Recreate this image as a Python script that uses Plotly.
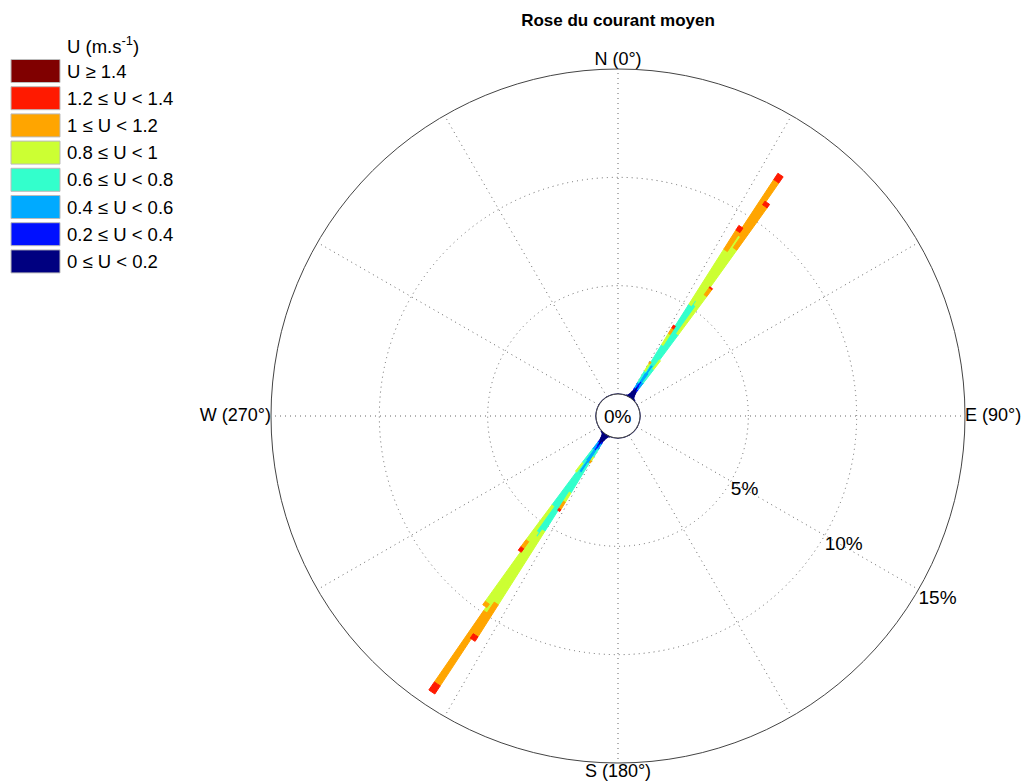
import plotly.graph_objects as go

# page body adds an 8px margin, so figure pixels = screen pixels - 8
OFF = 8
W, H = 1029 - OFF, 783 - OFF

# ---------------- data ----------------
class_labels = ["0 ≤ U < 0.2", "0.2 ≤ U < 0.4", "0.4 ≤ U < 0.6", "0.6 ≤ U < 0.8",
                "0.8 ≤ U < 1", "1 ≤ U < 1.2", "1.2 ≤ U < 1.4", "U ≥ 1.4"]
class_colors = ["#000080", "#0010FF", "#00AAFF", "#33FFCC",
                "#CCFF33", "#FFA500", "#FF1A00", "#800000"]

# low-speed class (0-0.2 m/s): fine 1-degree bins around both arms
dir_low = [22, 24, 26, 27, 28, 29, 30, 31, 32, 33, 34, 35, 36, 37, 38, 39, 40, 41, 42, 43, 44, 46, 48,
           202, 204, 206, 207, 208, 209, 210, 211, 212, 213, 214, 215, 216, 217, 218, 219, 220, 221, 222, 223, 224, 226, 228]
f_00_02 = [0.04, 0.05, 0.08, 0.1, 0.15, 0.2, 0.3, 0.4, 0.55, 0.6, 0.6, 0.6, 0.5, 0.4, 0.3, 0.2, 0.15, 0.1, 0.08, 0.06, 0.05, 0.05, 0.04,
           0.04, 0.05, 0.08, 0.1, 0.15, 0.2, 0.3, 0.4, 0.55, 0.6, 0.6, 0.6, 0.5, 0.4, 0.3, 0.2, 0.15, 0.1, 0.08, 0.06, 0.05, 0.05, 0.04]

# higher-speed classes: core bins of the flood (NE) and ebb (SW) arms
dir_main = [31, 32, 33, 34, 35, 36, 37,
            211, 212, 213, 214, 215, 216, 217]
f_02_04 = [0.1, 0.2, 0.3, 0.3, 0.3, 0.2, 0.1,
           0.1, 0.2, 0.3, 0.3, 0.3, 0.2, 0.1]
f_04_06 = [0.3, 0.6, 0.9, 1.0, 0.9, 0.7, 0.4,
           0.3, 0.8, 1.2, 1.3, 1.2, 0.8, 0.4]
f_06_08 = [0.6, 1.5, 3.3, 3.5, 3.4, 2.25, 0.8,
           0.4, 1.6, 3.2, 3.5, 3.4, 2.6, 0.8]
f_08_10 = [0.4, 0.6, 3.0, 3.6, 3.2, 2.2, 0.5,
           0.2, 0.5, 4.0, 4.2, 4.0, 2.0, 0.5]
f_10_12 = [0.1, 0.3, 1.05, 3.05, 2.4, 0.4, 0.0,
           0.1, 0.4, 1.75, 4.0, 0.2, 0.4, 0.0]
f_12_14 = [0.0, 0.15, 0.25, 0.35, 0.2, 0.05, 0.0,
           0.0, 0.1, 0.25, 0.45, 0.0, 0.2, 0.0]
f_14_up = [0.0, 0.0, 0.0, 0.0, 0.0, 0.0, 0.0,
           0.0, 0.0, 0.0, 0.0, 0.0, 0.0, 0.0]

series = [(dir_low, f_00_02), (dir_main, f_02_04), (dir_main, f_04_06), (dir_main, f_06_08),
          (dir_main, f_08_10), (dir_main, f_10_12), (dir_main, f_12_14), (dir_main, f_14_up)]

radial_ticks = [5, 10, 15]
radial_labels = ["5%", "10%", "15%"]
radial_label_dir = 120
r_max = 15
spokes = [0, 30, 60, 90, 120, 150, 180, 210, 240, 270, 300, 330]
card_dirs = [0, 90, 180, 270]
card_labels = ["N (0°)", "E (90°)", "S (180°)", "W (270°)"]
card_pos = ["top center", "middle right", "bottom center", "middle left"]
hole_theta = [i * 5 for i in range(73)]
hole_ring = [0] * len(hole_theta)

FONT = "Liberation Sans, Arial, sans-serif"
GRID = "#666666"
DOTS = "1px,4px"

fig = go.Figure()

for (dirs, vals), lab, col in zip(series, class_labels, class_colors):
    fig.add_trace(go.Barpolar(theta=dirs, r=vals, width=1.25, name=lab,
                              marker=dict(color=col, line=dict(color=col, width=1)),
                              showlegend=False))

fig.add_trace(go.Scatterpolar(r=hole_ring, theta=hole_theta, mode="lines",
                              line=dict(color="#1a1a70", width=1.3),
                              showlegend=False, hoverinfo="skip"))

# cardinal direction labels just outside the outer ring
fig.add_trace(go.Scatterpolar(r=[r_max] * 4, theta=card_dirs, mode="text", text=card_labels,
                              textposition=card_pos, cliponaxis=False,
                              textfont=dict(size=18, family=FONT, color="black"),
                              showlegend=False, hoverinfo="skip"))

# radial percentage labels, anchored at ring / spoke crossings
fig.add_trace(go.Scatterpolar(r=radial_ticks, theta=[radial_label_dir] * 3, mode="text",
                              text=radial_labels, textposition="bottom right", cliponaxis=False,
                              textfont=dict(size=19, family=FONT, color="black"),
                              showlegend=False, hoverinfo="skip"))

# polar placement (screen pixels -> paper)
cx, cy, R = 618 - OFF, 416 - OFF, 347
dom_x = [(cx - R) / W, (cx + R) / W]
dom_y = [1 - (cy + R) / H, 1 - (cy - R) / H]

fig.update_layout(
    width=W, height=H,
    margin=dict(l=0, r=0, t=0, b=0),
    paper_bgcolor="white",
    font=dict(family=FONT, size=18, color="black"),
    title=dict(text="<b>Rose du courant moyen</b>", x=cx / W, xanchor="center",
               y=1 - (20 - OFF) / H, yanchor="middle", font=dict(size=17, family=FONT)),
    polar=dict(
        domain=dict(x=dom_x, y=dom_y),
        hole=22 / R,
        bgcolor="white",
        barmode="stack",
        radialaxis=dict(range=[0, r_max], tickvals=radial_ticks, showticklabels=False,
                        showline=False, ticks="",
                        gridcolor=GRID, griddash=DOTS, gridwidth=1),
        angularaxis=dict(direction="clockwise", rotation=90,
                         tickmode="array", tickvals=spokes, showticklabels=False,
                         showline=True, linecolor="#444444", linewidth=1, ticks="",
                         gridcolor=GRID, griddash=DOTS, gridwidth=1),
    ),
)

# centre label
fig.add_annotation(text="0%", x=cx / W, y=1 - cy / H, xref="paper", yref="paper",
                   showarrow=False, font=dict(size=19, family=FONT))

# legend (drawn as swatches + labels, highest class on top)
leg_x0, leg_x1 = 11 - OFF, 60 - OFF
row0, pitch, sw_h = 71 - OFF, 27.2, 23
txt_x = 65 - OFF
fig.add_annotation(text="U (m.s<sup>-1</sup>)", x=txt_x / W, y=1 - (45 - OFF) / H, xref="paper", yref="paper",
                   xanchor="left", yanchor="middle", showarrow=False, font=dict(size=18.5, family=FONT))
for i, (lab, col) in enumerate(zip(reversed(class_labels), reversed(class_colors))):
    yc = row0 + i * pitch
    fig.add_shape(type="rect", xref="paper", yref="paper",
                  x0=leg_x0 / W, x1=leg_x1 / W, y0=1 - (yc - sw_h / 2) / H, y1=1 - (yc + sw_h / 2) / H,
                  fillcolor=col, line=dict(color="#bbbbbb", width=1))
    fig.add_annotation(text=lab, x=txt_x / W, y=1 - yc / H, xref="paper", yref="paper",
                       xanchor="left", yanchor="middle", showarrow=False,
                       font=dict(size=18.5, family=FONT))

fig.write_html("out.html")
